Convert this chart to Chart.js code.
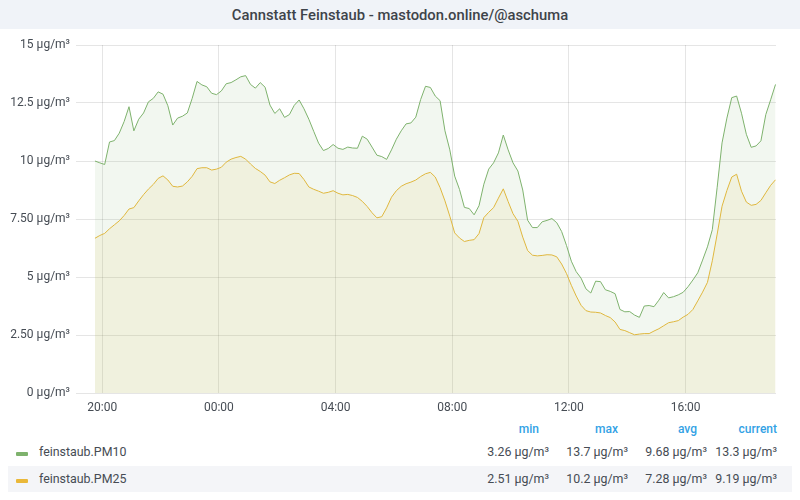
<!DOCTYPE html>
<html>
<head>
<meta charset="utf-8">
<script src="https://cdn.jsdelivr.net/npm/chart.js@4"></script>
<style>
  body { margin: 0; width: 800px; height: 500px; background: #fff; font-family: Roboto, sans-serif; color: #464c54; position: relative; overflow: hidden; }
  #title { height: 29px; line-height: 30px; background: #f0f3f8; text-align: center; font-size: 14.8px; font-weight: 500; color: #3e434a; }
  #wrap { position: absolute; left: 0; top: 30px; width: 800px; height: 390px; }
  .lg { position: absolute; font-size: 12.4px; white-space: nowrap; }
  .hd { position: absolute; font-size: 12px; font-weight: 500; color: #33a2e5; text-align: right; }
  .val { position: absolute; font-size: 12.4px; text-align: right; white-space: nowrap; }
  .sw { position: absolute; width: 12px; height: 4px; border-radius: 1px; }
  #row2 { position: absolute; left: 8px; top: 466px; width: 784px; height: 26px; background: #f4f5f8; }
</style>
</head>
<body>
<div id="title">Cannstatt Feinstaub - mastodon.online/@aschuma</div>
<div id="wrap"><canvas id="chart"></canvas></div>
<div id="row2"></div>
<div id="legend"></div>
<script>
// 10-minute samples, first at 19:45 (hours relative to midnight)
const startHour = -4.25;
const stepMinutes = 10;

const pm10 = [
  10.0, 9.92, 9.85, 10.82, 10.88, 11.2, 11.7, 12.34, 11.3, 11.8,
  12.07, 12.55, 12.7, 12.98, 12.88, 12.38, 11.55, 11.85, 11.93, 12.07,
  12.7, 13.43, 13.28, 13.2, 12.92, 12.86, 13.02, 13.33, 13.38, 13.5,
  13.63, 13.68, 13.3, 13.14, 13.38, 13.18, 12.41, 12.05, 12.25, 11.88,
  12.0, 12.4, 12.63, 12.25, 11.8, 11.28, 10.77, 10.45, 10.54, 10.71,
  10.55, 10.5, 10.6, 10.56, 10.55, 11.07, 10.94, 10.6, 10.25, 10.19,
  10.07, 10.48, 10.94, 11.3, 11.6, 11.64, 11.89, 12.65, 13.22, 13.17,
  12.8, 12.6, 11.3, 10.48, 9.35, 8.77, 8.0, 7.95, 7.68, 8.07,
  9.0, 9.65, 9.92, 10.35, 11.12, 10.48, 9.92, 9.57, 8.75, 7.45,
  7.13, 7.13, 7.38, 7.44, 7.52, 7.34, 6.96, 6.36, 5.68, 5.23,
  4.95, 4.49, 4.31, 4.82, 4.8, 4.45, 4.38, 4.28, 3.6, 3.5,
  3.51, 3.36, 3.26, 3.75, 3.77, 3.72, 4.0, 4.33, 4.1, 4.15,
  4.23, 4.34, 4.58, 4.87, 5.18, 5.73, 6.3, 7.04, 8.87, 10.78,
  11.85, 12.73, 12.8, 12.06, 11.15, 10.59, 10.65, 10.87, 12.0, 12.64,
  13.3
];

const pm25 = [
  6.67, 6.79, 6.88, 7.08, 7.25, 7.42, 7.65, 7.93, 7.99, 8.28,
  8.55, 8.79, 8.99, 9.25, 9.36, 9.18, 8.91, 8.88, 8.92, 9.1,
  9.34, 9.67, 9.71, 9.71, 9.61, 9.65, 9.73, 9.95, 10.08, 10.15,
  10.2, 10.08, 9.87, 9.68, 9.55, 9.39, 9.1, 9.03, 9.17, 9.28,
  9.4, 9.47, 9.46, 9.2, 8.88, 8.78, 8.7, 8.61, 8.65, 8.72,
  8.61, 8.54, 8.56, 8.51, 8.43, 8.26, 8.04, 7.77, 7.55, 7.6,
  7.98, 8.44, 8.72, 8.91, 9.02, 9.09, 9.18, 9.33, 9.45, 9.51,
  9.31, 8.85, 8.28, 7.62, 6.9, 6.68, 6.53, 6.58, 6.61, 6.87,
  7.56, 7.79, 7.99, 8.4, 8.8, 8.25, 7.73, 7.4, 6.72, 6.14,
  5.94, 5.91, 5.93, 5.96, 5.95, 5.87, 5.56, 5.15, 4.64, 4.18,
  3.78, 3.55, 3.49, 3.48, 3.45, 3.34, 3.25, 3.06, 2.74, 2.69,
  2.6, 2.51, 2.54, 2.56, 2.56, 2.67, 2.77, 2.9, 3.03, 3.07,
  3.12, 3.27, 3.39, 3.6, 3.97, 4.35, 4.77, 5.7, 6.85, 8.05,
  8.73, 9.31, 9.43, 8.7, 8.23, 8.09, 8.13, 8.3, 8.63, 8.95,
  9.19
];

const xTicks = [-4, 0, 4, 8, 12, 16];
const yTicks = [0, 2.5, 5, 7.5, 10, 12.5, 15];
const yTickLabels = ["0 µg/m³", "2.50 µg/m³", "5 µg/m³", "7.50 µg/m³", "10 µg/m³", "12.5 µg/m³", "15 µg/m³"];

const seriesNames = ["feinstaub.PM10", "feinstaub.PM25"];
const statHeaders = ["min", "max", "avg", "current"];
const stats = [
  ["3.26 µg/m³", "13.7 µg/m³", "9.68 µg/m³", "13.3 µg/m³"],
  ["2.51 µg/m³", "10.2 µg/m³", "7.28 µg/m³", "9.19 µg/m³"]
];
const colors = ["#7eb26d", "#eab839"];
const fills = ["rgba(126,178,109,0.1)", "rgba(234,184,57,0.1)"];

const toPoints = (vals) => vals.map((v, i) => ({ x: startHour + i * stepMinutes / 60, y: v }));

new Chart(document.getElementById("chart").getContext("2d"), {
  type: "line",
  data: {
    datasets: [pm10, pm25].map((vals, k) => ({
      label: seriesNames[k],
      data: toPoints(vals),
      borderColor: colors[k],
      backgroundColor: fills[k],
      borderWidth: 1,
      pointRadius: 0,
      fill: "origin",
      tension: 0
    }))
  },
  options: {
    responsive: true,
    maintainAspectRatio: false,
    animation: false,
    layout: { padding: { top: 15, right: 24, left: 0, bottom: 0 } },
    plugins: { legend: { display: false }, tooltip: { enabled: false } },
    scales: {
      x: {
        type: "linear",
        min: -4.9,
        max: 19.1,
        afterBuildTicks: (s) => { s.ticks = xTicks.map((v) => ({ value: v })); },
        afterFit: (s) => { s.height = 27; },
        grid: { color: "rgba(0,0,0,0.1)", drawTicks: false },
        border: { display: false },
        ticks: {
          padding: 8,
          color: "#464c54",
          font: { family: "Roboto", size: 12 },
          maxRotation: 0,
          callback: (v) => String(((v % 24) + 24) % 24).padStart(2, "0") + ":00"
        }
      },
      y: {
        min: 0,
        max: 15,
        afterBuildTicks: (s) => { s.ticks = yTicks.map((v) => ({ value: v })); },
        afterFit: (s) => { s.width = 76; },
        grid: { color: "rgba(0,0,0,0.1)", drawTicks: false },
        border: { display: false },
        ticks: {
          padding: 6,
          color: "#464c54",
          font: { family: "Roboto", size: 12 },
          callback: (v) => yTickLabels[yTicks.indexOf(v)]
        }
      }
    }
  }
});

// legend table
const legend = document.getElementById("legend");
const headRight = [539, 618, 697, 777];
const valRight = [549, 628, 707, 777];
const rowY = [444, 471];
statHeaders.forEach((h, j) => {
  const d = document.createElement("div");
  d.className = "hd";
  d.textContent = h;
  d.style.right = (800 - headRight[j]) + "px";
  d.style.top = "422px";
  legend.appendChild(d);
});
seriesNames.forEach((name, k) => {
  const sw = document.createElement("div");
  sw.className = "sw";
  sw.style.left = "16px";
  sw.style.top = (rowY[k] + 8) + "px";
  sw.style.background = colors[k];
  legend.appendChild(sw);
  const lb = document.createElement("div");
  lb.className = "lg";
  lb.textContent = name;
  lb.style.left = "39px";
  lb.style.top = rowY[k] + "px";
  legend.appendChild(lb);
  stats[k].forEach((s, j) => {
    const v = document.createElement("div");
    v.className = "val";
    v.textContent = s;
    v.style.right = (800 - valRight[j]) + "px";
    v.style.top = rowY[k] + "px";
    legend.appendChild(v);
  });
});
</script>
</body>
</html>
